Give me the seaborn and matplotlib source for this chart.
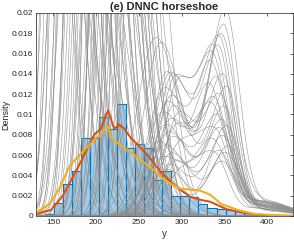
import numpy as np
import pandas as pd
import matplotlib
matplotlib.use("Agg")
import matplotlib.pyplot as plt
import seaborn as sns

# ---- histogram of observed y (density) ----
bin_edges = [140.3, 150.9, 161.4, 172.0, 182.5, 193.1, 203.6, 214.2, 224.7, 235.3,
             245.8, 256.4, 266.9, 277.5, 288.0, 298.6, 309.1, 319.7, 330.2, 340.8,
             351.3, 361.9, 372.4, 383.0]
bin_dens = [0.0002, 0.0013, 0.0032, 0.0044, 0.0077, 0.0077, 0.0098, 0.0086, 0.011, 0.0067,
            0.0071, 0.0067, 0.0035, 0.0044, 0.0020, 0.0020, 0.0019, 0.0012, 0.0008, 0.0007,
            0.0006, 0.0005, 0.0003]

# ---- orange density curve ----
orange_x = [130, 147.6, 161.3, 172.2, 182.7, 193.6, 197.9, 205.7, 211.5, 214.2, 217.4, 221.2,
            227.1, 232.9, 240.7, 252.4, 262.1, 275, 286.7, 298.3, 310, 321.7, 333.4, 353,
            373, 392.5, 430]
orange_y = [0.0002, 0.0006, 0.0020, 0.0037, 0.0054, 0.0073, 0.0080, 0.0086, 0.0099, 0.0104,
            0.0096, 0.0086, 0.0090, 0.0086, 0.0077, 0.0067, 0.0058, 0.0044, 0.0034, 0.0026,
            0.0019, 0.0016, 0.0014, 0.00066, 0.0003, 0.0001, 0.0]

# ---- yellow density curve ----
yellow_x = [130, 146, 157.3, 169, 180.7, 192.4, 200.2, 205.7, 211.5, 214.2, 217.4, 225.1,
            236.8, 248.5, 260.1, 268, 275, 286.7, 298.3, 310, 321.7, 333.4, 345.9, 365.3,
            384.8, 411.7, 430]
yellow_y = [0.0003, 0.0012, 0.0027, 0.0049, 0.0060, 0.0070, 0.0077, 0.0080, 0.0088, 0.0088,
            0.0077, 0.0072, 0.0065, 0.0058, 0.0050, 0.0045, 0.0039, 0.0032, 0.0027, 0.0026,
            0.0025, 0.0021, 0.0012, 0.0006, 0.0002, 0.00007, 0.00003]

# ---- gray predictive curves, group A: tall skewed peaks (mode, left sd, right sd, height)
gA_mu = [146, 149, 151, 154, 156, 158, 161, 163, 164, 167, 169, 171, 173, 176, 178, 179, 182,
         184, 186, 188, 190, 192, 194, 196, 198, 200, 201, 203, 205, 207, 209, 211, 212, 214,
         216, 218, 219, 221, 223, 225, 226, 228, 230, 232, 234, 236, 238, 241, 244, 247]
gA_sl = [11, 9, 13, 10, 12, 8, 14, 11, 9, 13, 10, 12, 15, 9, 11, 13, 10, 12, 14, 9, 11, 13,
         10, 12, 8, 14, 11, 9, 13, 10, 12, 15, 9, 11, 13, 10, 12, 14, 9, 11, 13, 10, 12, 8,
         14, 11, 9, 13, 10, 12]
gA_sr = [21, 29, 18, 25, 34, 22, 20, 31, 27, 17, 24, 32, 21, 28, 19, 25, 35, 23, 20, 31, 27,
         18, 24, 33, 22, 29, 20, 26, 34, 23, 21, 30, 27, 18, 24, 32, 22, 28, 19, 25, 34, 22,
         20, 31, 27, 18, 24, 29, 21, 20]
gA_h = [0.05, 0.08, 0.04, 0.06, 0.035, 0.09, 0.045, 0.07, 0.055, 0.04, 0.065, 0.05, 0.038,
        0.075, 0.06, 0.045, 0.03, 0.055, 0.07, 0.04, 0.05, 0.085, 0.06, 0.035, 0.1, 0.045,
        0.065, 0.05, 0.04, 0.07, 0.055, 0.042, 0.06, 0.08, 0.05, 0.038, 0.065, 0.045, 0.075,
        0.055, 0.035, 0.06, 0.05, 0.09, 0.04, 0.07, 0.05, 0.045, 0.06, 0.04]

# ---- group B: bimodal curves (first mode, second mode, right tail)
gB_mu1 = [270, 276, 283, 286, 289, 292, 295, 280, 288, 284, 291, 278, 296, 287, 282, 293, 285,
          290, 274, 281, 297, 289, 279, 294, 286, 283, 299, 277]
gB_h1 = [0.0176, 0.0171, 0.0142, 0.0139, 0.0137, 0.0133, 0.0128, 0.0125, 0.0118, 0.0112,
         0.0108, 0.0102, 0.0098, 0.0094, 0.0090, 0.0086, 0.0082, 0.0078, 0.0074, 0.0070,
         0.0066, 0.0062, 0.0058, 0.0055, 0.0050, 0.0046, 0.0042, 0.0040]
gB_s1 = [22, 20, 18, 19, 17, 18, 16, 20, 18, 19, 17, 21, 16, 18, 20, 17, 19, 18, 18, 20, 17,
         19, 21, 18, 16, 20, 18, 19]
gB_mu2 = [351, 349, 346, 344, 343, 339, 337, 335, 348, 341, 353, 333, 345, 338, 350, 336, 342,
          347, 352, 344, 340, 348, 336, 355, 343, 350, 339, 346]
gB_h2 = [0.0198, 0.0185, 0.0174, 0.0171, 0.0162, 0.0153, 0.0148, 0.0142, 0.0135, 0.0130,
         0.0125, 0.0120, 0.0115, 0.0110, 0.0105, 0.0100, 0.0095, 0.0090, 0.0086, 0.0082,
         0.0078, 0.0074, 0.0070, 0.0066, 0.0062, 0.0058, 0.0054, 0.0050]
gB_s2l = [20, 19, 18, 20, 19, 18, 17, 18, 19, 18, 20, 17, 19, 18, 20, 17, 19, 18, 19, 18, 20,
          17, 19, 18, 20, 17, 19, 18]
gB_s2r = [16, 15, 17, 16, 15, 16, 17, 18, 15, 16, 14, 18, 16, 17, 15, 18, 16, 15, 15, 17, 16,
          15, 18, 14, 16, 17, 15, 16]
gB_tail = [0.0012, 0.0008, 0.0015, 0.0006, 0.0010, 0.0013, 0.0007, 0.0011, 0.0009, 0.0014,
           0.0005, 0.0012, 0.0008, 0.0010, 0.0006, 0.0013, 0.0009, 0.0011, 0.0009, 0.0013,
           0.0007, 0.0011, 0.0015, 0.0006, 0.0010, 0.0012, 0.0008, 0.0014]

grid = np.linspace(125, 435, 700)


def split_peak(x, mu, sl, sr, h):
    s = np.where(x < mu, sl, sr)
    return h * np.exp(-0.5 * ((x - mu) / s) ** 2)


rows = []
for i in range(len(gA_mu)):
    d = split_peak(grid, gA_mu[i], gA_sl[i], gA_sr[i], gA_h[i])
    rows.append(pd.DataFrame({"y": grid, "dens": d, "draw": i}))
for j in range(len(gB_mu1)):
    d = (split_peak(grid, gB_mu1[j], gB_s1[j], gB_s1[j] * 1.2, gB_h1[j])
         + split_peak(grid, gB_mu2[j], gB_s2l[j], gB_s2r[j], gB_h2[j])
         + split_peak(grid, 395, 30, 30, gB_tail[j]))
    rows.append(pd.DataFrame({"y": grid, "dens": d, "draw": 100 + j}))
draws = pd.concat(rows, ignore_index=True)
draws["dens"] = draws["dens"].clip(upper=0.03)

hist_df = pd.DataFrame({
    "mid": [(a + b) / 2 for a, b in zip(bin_edges[:-1], bin_edges[1:])],
    "dens": bin_dens,
})

sns.set_style("white")
plt.rcParams["font.family"] = ["Liberation Sans", "DejaVu Sans"]

fig = plt.figure(figsize=(2.94, 2.44), dpi=100)
ax = fig.add_axes([0.1224, 0.1148, 0.874, 0.832])

sns.lineplot(draws, x="y", y="dens", units="draw", estimator=None,
             color="#8c8c8c", linewidth=0.4, alpha=0.9, ax=ax, legend=False)
sns.histplot(hist_df, x="mid", weights="dens", bins=bin_edges, stat="count",
             color="#0072BD", alpha=0.35, edgecolor="#0072BD", linewidth=0.8, ax=ax)
sns.lineplot(x=orange_x, y=orange_y, color="#D95319", linewidth=1.5, ax=ax)
sns.lineplot(x=yellow_x, y=yellow_y, color="#EDB120", linewidth=1.5, ax=ax)

ax.set_xlim(130, 430)
ax.set_ylim(0, 0.02)
ax.set_xticks([150, 200, 250, 300, 350, 400])
ax.set_yticks(np.arange(0, 0.0201, 0.002))
ax.set_yticklabels(["0", "0.002", "0.004", "0.006", "0.008", "0.01",
                    "0.012", "0.014", "0.016", "0.018", "0.02"])
ax.tick_params(direction="in", length=2.5, width=0.5, labelsize=6, colors="#262626",
               top=True, right=True, pad=2)
for sp in ax.spines.values():
    sp.set_linewidth(0.5)
    sp.set_color("#262626")
ax.set_xlabel("y", fontsize=7, color="#262626", labelpad=2)
ax.set_ylabel("Density", fontsize=6.5, color="#262626", labelpad=1)
ax.set_title("(e) DNNC horseshoe", fontsize=8, fontweight="bold", pad=2)

fig.savefig("out.png", dpi=100)
